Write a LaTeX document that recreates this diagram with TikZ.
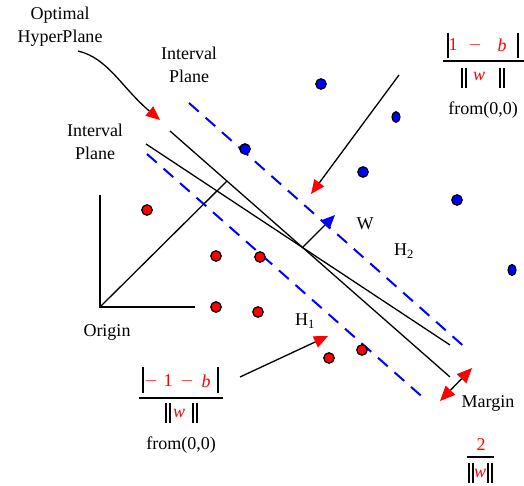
\documentclass[tikz,border=0pt]{standalone}
\usepackage{fontspec}
\setmainfont{Liberation Serif}
\usetikzlibrary{arrows.meta,shapes.geometric}
\begin{document}
\begin{tikzpicture}[x=1pt,y=-1pt,
  lbl/.style={font=\fontsize{18}{23}\selectfont, inner sep=0pt, align=center},
  rtxt/.style={font=\fontsize{18}{22}\selectfont, inner sep=0pt, text=red},
  plane/.style={line width=1.3pt, black},
  margin/.style={blue, line width=2pt, dash pattern=on 13pt off 9pt},
  axis/.style={line width=1.3pt, black},
  bar/.style={line width=1.3pt, black},
  ptr/.style={line width=1.3pt, black, -{Triangle[red, length=14pt, width=12pt]}},
  dptr/.style={line width=1.3pt, black, {Triangle[red, length=15pt, width=13pt]}-{Triangle[red, length=15pt, width=13pt]}},
  wvec/.style={line width=1.3pt, black, -{Triangle[blue, length=14pt, width=12pt]}},
  bdot/.style={ellipse, draw=black, line width=1.2pt, fill=blue, inner sep=0pt, minimum width=10.5pt, minimum height=10.5pt},
  rdot/.style={ellipse, draw=black, line width=1.2pt, fill=red, inner sep=0pt, minimum width=10.5pt, minimum height=10.5pt}
]
\useasboundingbox (0,0) rectangle (524,486);

% planes
\coordinate (a1) at (170,131); \coordinate (a2) at (450,377);
\coordinate (b1) at (146,144); \coordinate (b2) at (450,345);
\draw[plane] (a1) -- (a2);
\draw[plane] (b1) -- (b2);
\coordinate (u1) at (189,103); \coordinate (u2) at (468,350);
\coordinate (l1) at (147,154); \coordinate (l2) at (427,401);
\draw[margin] (u1) -- (u2);
\draw[margin] (l1) -- (l2);

% axes
\coordinate (O) at (100,307);
\coordinate (yT) at (100,195);
\coordinate (xR) at (195,307);
\coordinate (foot) at (227,181);
\draw[axis] (yT) -- (O) -- (xR);
\draw[axis] (O) -- (foot);

% w vector
\coordinate (cross) at (303,247);
\coordinate (wtip) at (335,215);
\draw[wvec] (cross) -- (wtip);

% dots
\node[bdot] (p1) at (321,84) {};
\node[bdot, minimum width=8pt, minimum height=10.5pt] (p2) at (396,117) {};
\node[bdot] (p3) at (363,172) {};
\node[bdot] (p4) at (245,149) {};
\node[bdot] (p5) at (457,200) {};
\node[bdot, minimum width=8pt, minimum height=11pt] (p6) at (512,270) {};
\node[rdot] (q1) at (147,210) {};
\node[rdot] (q2) at (216,256) {};
\node[rdot] (q3) at (260,257) {};
\node[rdot] (q4) at (216,307) {};
\node[rdot] (q5) at (258,312) {};
\node[rdot] (q6) at (329,358) {};
\node[rdot] (q7) at (362,350) {};

% labels
\node[lbl] (opt) at (60,27) {Optimal\\HyperPlane};
\node[lbl] (ip1) at (189,65) {Interval\\Plane};
\node[lbl] (ip2) at (95,142) {Interval\\Plane};
\node[lbl] (W) at (365,224) {W};
\node[lbl] (H2) at (404,251) {H\textsubscript{2}};
\node[lbl] (H1) at (305,321) {H\textsubscript{1}};
\node[lbl] (orig) at (107,332) {Origin};
\node[lbl] (marg) at (488,403) {Margin};

% pointers
\coordinate (c1s) at (78,51); \coordinate (c1e) at (160,120);
\draw[ptr] (c1s) .. controls (108,58) and (122,88) .. (c1e);
\coordinate (c2s) at (399,75); \coordinate (c2e) at (311,194);
\draw[ptr] (c2s) -- (c2e);
\coordinate (c3s) at (240,377); \coordinate (c3e) at (328,336);
\draw[ptr] (c3s) -- (c3e);
\coordinate (m1) at (440,401); \coordinate (m2) at (472,368);
\draw[dptr] (m1) -- (m2);

% top-right fraction
\draw[bar] (448,33) -- (448,58);
\draw[bar] (518,33) -- (518,58);
\node[rtxt] (t1) at (453,45) {1};
\node[rtxt] (t2) at (475,45) {$-$};
\node[rtxt] (t3) at (502,45) {\textit{b}};
\draw[bar] (443,61) -- (524,61);
\draw[bar] (462,68) -- (462,88); \draw[bar] (466,68) -- (466,88);
\node[rtxt] (t4) at (479,76) {\textit{w}};
\draw[bar] (500,68) -- (500,88); \draw[bar] (504,68) -- (504,88);
\node[lbl] (f1) at (483,110) {from(0,0)};

% bottom-left fraction
\draw[bar] (143,367) -- (143,393);
\draw[bar] (218,367) -- (218,393);
\node[rtxt] (s1) at (151,381) {$-$};
\node[rtxt] (s2) at (168,381) {1};
\node[rtxt] (s3) at (187,381) {$-$};
\node[rtxt] (s4) at (206,381) {\textit{b}};
\draw[bar] (139,398) -- (223,398);
\draw[bar] (166,403) -- (166,423); \draw[bar] (170,403) -- (170,423);
\node[rtxt] (s5) at (179,413) {\textit{w}};
\draw[bar] (193,403) -- (193,423); \draw[bar] (197,403) -- (197,423);
\node[lbl] (f2) at (181,445) {from(0,0)};

% margin fraction
\node[rtxt] (m3) at (481,445) {2};
\draw[bar] (467,457) -- (494,457);
\draw[bar] (469,463) -- (469,483); \draw[bar] (473,463) -- (473,483);
\node[rtxt] (m4) at (480,473) {\textit{w}};
\draw[bar] (488,463) -- (488,483); \draw[bar] (492,463) -- (492,483);
\end{tikzpicture}
\end{document}
